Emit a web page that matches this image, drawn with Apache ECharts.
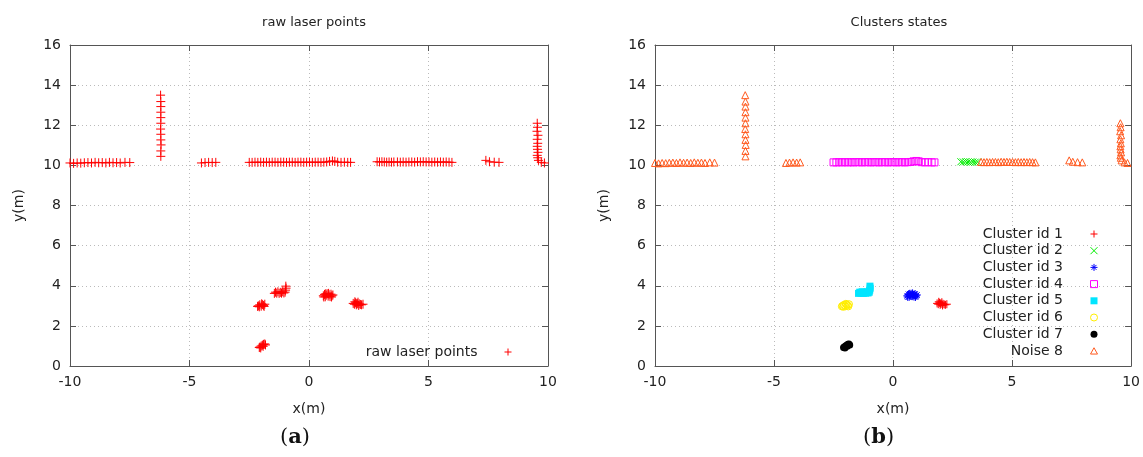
<!DOCTYPE html>
<html>
<head>
<meta charset="utf-8">
<script src="https://cdn.jsdelivr.net/npm/echarts@6/dist/echarts.min.js"></script>
<style>
  html, body { margin: 0; padding: 0; background: #fff; }
  #main { width: 1143px; height: 457px; }
</style>
</head>
<body>
<div id="main"></div>
<script>
var dom = document.getElementById('main');
var myChart = echarts.init(dom);

// points, [x, y] in metres
var cluster1 = [[1.85,3.12],[1.9,3.08],[1.95,3.15],[1.98,3.05],[2.02,3.1],[2.05,3.18],[2.08,3.02],[2.1,3.1],[2.15,3.07],[2.2,3.05],[1.92,3.2],[2.0,3.12],[2.26,3.08]];
var cluster2 = [[2.85,10.18],[2.95,10.17],[3.05,10.18],[3.15,10.17],[3.25,10.16],[3.35,10.17],[3.45,10.16],[3.55,10.17]];
var cluster3 = [[0.6,3.5],[0.65,3.57],[0.68,3.45],[0.72,3.53],[0.76,3.6],[0.8,3.48],[0.84,3.55],[0.88,3.46],[0.92,3.58],[0.96,3.5],[1.0,3.54],[0.7,3.6],[0.82,3.62],[0.94,3.44],[0.62,3.44]];
var cluster4 = [[-2.5,10.15],[-2.38,10.15],[-2.26,10.16],[-2.14,10.15],[-2.02,10.16],[-1.9,10.15],[-1.78,10.16],[-1.66,10.15],[-1.54,10.16],[-1.42,10.16],[-1.3,10.15],[-1.18,10.16],[-1.06,10.16],[-0.94,10.15],[-0.82,10.16],[-0.7,10.16],[-0.58,10.15],[-0.46,10.16],[-0.34,10.16],[-0.22,10.15],[-0.1,10.16],[0.02,10.16],[0.14,10.15],[0.26,10.16],[0.38,10.16],[0.5,10.15],[0.62,10.16],[0.74,10.17],[0.86,10.2],[0.98,10.22],[1.08,10.2],[1.2,10.16],[1.34,10.15],[1.48,10.16],[1.62,10.15],[1.74,10.15]];
var cluster5 = [[-1.45,3.62],[-1.4,3.68],[-1.35,3.63],[-1.3,3.7],[-1.25,3.62],[-1.2,3.67],[-1.15,3.63],[-1.1,3.7],[-1.05,3.64],[-1.0,3.68],[-0.98,3.78],[-0.96,3.88],[-0.97,3.98]];
var cluster6 = [[-2.12,3.0],[-2.06,3.05],[-2.0,2.98],[-1.95,3.06],[-1.9,3.02],[-1.85,3.08],[-2.08,2.95],[-1.98,3.1],[-1.88,2.97],[-2.15,2.97]];
var cluster7 = [[-2.05,0.95],[-2.0,1.0],[-1.95,1.04],[-1.9,1.08],[-1.85,1.1],[-2.02,0.9],[-1.92,0.98],[-1.82,1.05],[-2.08,0.92]];
var noise8 = [
  [-10.0,10.12],[-9.85,10.1],[-9.7,10.12],[-9.55,10.11],[-9.4,10.13],[-9.25,10.14],[-9.1,10.12],[-8.95,10.15],[-8.8,10.13],[-8.65,10.14],[-8.5,10.12],[-8.35,10.15],[-8.2,10.13],[-8.05,10.14],[-7.9,10.12],[-7.7,10.15],[-7.5,10.14],
  [-6.2,10.45],[-6.2,10.72],[-6.19,11.02],[-6.2,11.27],[-6.2,11.55],[-6.21,11.81],[-6.2,12.1],[-6.2,12.38],[-6.2,12.65],[-6.2,12.93],[-6.2,13.18],[-6.21,13.5],
  [-4.5,10.12],[-4.35,10.14],[-4.2,10.15],[-4.05,10.14],[-3.9,10.15],
  [3.7,10.17],[3.82,10.16],[3.94,10.17],[4.06,10.16],[4.18,10.17],[4.3,10.17],[4.42,10.16],[4.54,10.18],[4.66,10.17],[4.78,10.18],[4.9,10.17],[5.02,10.17],[5.14,10.16],[5.26,10.17],[5.38,10.16],[5.5,10.17],[5.62,10.16],[5.74,10.17],[5.86,10.16],[5.98,10.15],
  [7.4,10.25],[7.55,10.18],[7.75,10.16],[7.95,10.15],
  [9.55,12.1],[9.56,11.9],[9.54,11.7],[9.58,11.5],[9.55,11.3],[9.57,11.1],[9.55,10.95],[9.56,10.8],[9.58,10.65],[9.55,10.5],[9.57,10.38],[9.6,10.25],[9.72,10.15],[9.85,10.12]
];
var clusterNames = ['Cluster id 1','Cluster id 2','Cluster id 3','Cluster id 4','Cluster id 5','Cluster id 6','Cluster id 7','Noise 8'];
var rawPoints = [].concat(cluster1, cluster2, cluster3, cluster4, cluster5, cluster6, cluster7, noise8);

var FONT = 'DejaVu Sans';
var plusSym = 'path://M0,5L10,5M5,0L5,10';
var crossSym = 'path://M0,0L10,10M10,0L0,10';
var starSym = 'path://M0,5L10,5M5,0L5,10M1.5,1.5L8.5,8.5M8.5,1.5L1.5,8.5';
var squareSym = 'path://M0,0L10,0L10,10L0,10Z';
var triSym = 'path://M5,0L10,9L0,9Z';

function xAxes(idx) {
  return [{
    gridIndex: idx, type: 'value', min: -10, max: 10, interval: 5,
    name: 'x(m)', nameLocation: 'middle', nameGap: 36,
    nameTextStyle: {fontFamily: FONT, fontSize: 14, color: '#222'},
    axisLine: {onZero: false, lineStyle: {color: '#555'}},
    axisTick: {inside: true, length: 6, lineStyle: {color: '#555'}},
    axisLabel: {fontFamily: FONT, fontSize: 14, color: '#222', margin: 9},
    splitLine: {show: true, lineStyle: {color: '#bbb', type: [1, 3]}}
  }, {
    gridIndex: idx, type: 'value', min: -10, max: 10, interval: 5, position: 'top',
    axisLine: {onZero: false, lineStyle: {color: '#555'}},
    axisTick: {inside: true, length: 6, lineStyle: {color: '#555'}},
    axisLabel: {show: false}, splitLine: {show: false}
  }];
}
function yAxes(idx) {
  return [{
    gridIndex: idx, type: 'value', min: 0, max: 16, interval: 2,
    name: 'y(m)', nameLocation: 'middle', nameGap: 44,
    nameTextStyle: {fontFamily: FONT, fontSize: 14, color: '#222'},
    axisLine: {onZero: false, lineStyle: {color: '#555'}},
    axisTick: {inside: true, length: 6, lineStyle: {color: '#555'}},
    axisLabel: {fontFamily: FONT, fontSize: 14, color: '#222', margin: 9},
    splitLine: {show: true, lineStyle: {color: '#bbb', type: [1, 3]}}
  }, {
    gridIndex: idx, type: 'value', min: 0, max: 16, interval: 2, position: 'right',
    axisLine: {onZero: false, lineStyle: {color: '#555'}},
    axisTick: {inside: true, length: 6, lineStyle: {color: '#555'}},
    axisLabel: {show: false}, splitLine: {show: false}
  }];
}

function outlineSeries(name, data, sym, size, color) {
  return {
    name: name, type: 'scatter', xAxisIndex: 2, yAxisIndex: 2,
    data: data, symbol: sym, symbolSize: size, silent: true,
    itemStyle: {color: 'transparent', borderColor: color, borderWidth: 1, opacity: 1}
  };
}

var rightStyles = [
  [plusSym, 8, '#ff0000', false],
  [crossSym, 7, '#00ee00', false],
  [starSym, 8, '#0000ff', false],
  [squareSym, 7, '#ff00ff', false],
  ['rect', 7, '#00e5ff', true],
  ['circle', 7, '#ffee00', false],
  ['circle', 7, '#000000', true],
  [triSym, 7, '#ff5a1f', false]
];
var clusterData = [cluster1, cluster2, cluster3, cluster4, cluster5, cluster6, cluster7, noise8];

var series = [{
  name: 'raw laser points', type: 'scatter', xAxisIndex: 0, yAxisIndex: 0,
  data: rawPoints, symbol: plusSym, symbolSize: 9, silent: true,
  itemStyle: {color: 'transparent', borderColor: '#ff0000', borderWidth: 1, opacity: 1}
}];
var legendItems = [];
clusterData.forEach(function (d, i) {
  var st = rightStyles[i];
  if (st[3]) {
    series.push({
      name: clusterNames[i], type: 'scatter', xAxisIndex: 2, yAxisIndex: 2,
      data: d, symbol: st[0], symbolSize: st[1], silent: true,
      itemStyle: {color: st[2], opacity: 1}
    });
    legendItems.push({name: clusterNames[i]});
  } else {
    series.push(outlineSeries(clusterNames[i], d, st[0], st[1], st[2]));
    legendItems.push({name: clusterNames[i],
      itemStyle: {color: 'transparent', borderColor: st[2], borderWidth: 1}});
  }
});

option = {
  animation: false,
  backgroundColor: '#fff',
  title: [
    {text: 'raw laser points', left: 309, top: 11, textAlign: 'center',
     textStyle: {fontFamily: FONT, fontSize: 13, fontWeight: 'normal', color: '#222'}},
    {text: 'Clusters states', left: 894, top: 11, textAlign: 'center',
     textStyle: {fontFamily: FONT, fontSize: 13, fontWeight: 'normal', color: '#222'}}
  ],
  grid: [
    {left: 70, top: 45, width: 478, height: 321},
    {left: 655, top: 45, width: 478, height: 321}
  ],
  xAxis: xAxes(0).concat(xAxes(1)),
  yAxis: yAxes(0).concat(yAxes(1)),
  legend: [{
    data: [{name: 'raw laser points',
      itemStyle: {color: 'transparent', borderColor: '#ff0000', borderWidth: 1}}],
    orient: 'vertical', align: 'right',
    right: 626, top: 340, itemWidth: 7, itemHeight: 7, selectedMode: false,
    textStyle: {fontFamily: FONT, fontSize: 14, color: '#222', padding: [0, 22, 0, 0]}
  }, {
    data: legendItems, orient: 'vertical', align: 'right',
    right: 40, top: 222, itemWidth: 7, itemHeight: 7, itemGap: 2.7, selectedMode: false,
    textStyle: {fontFamily: FONT, fontSize: 14, color: '#222', width: 90, align: 'right',
                lineHeight: 14, padding: [0, 22.5, 0, 0]}
  }],
  graphic: [
    {type: 'text', left: 280, top: 427, style: {
      text: '({b|a})', font: '21px "DejaVu Serif"', fill: '#111',
      rich: {b: {fontFamily: 'DejaVu Serif', fontWeight: 'bold', fontSize: 21, fill: '#111'}}}},
    {type: 'text', left: 863, top: 427, style: {
      text: '({b|b})', font: '21px "DejaVu Serif"', fill: '#111',
      rich: {b: {fontFamily: 'DejaVu Serif', fontWeight: 'bold', fontSize: 21, fill: '#111'}}}}
  ],
  series: series
};
if (option && typeof option === 'object') {
  myChart.setOption(option, true);
}
</script>
</body>
</html>
